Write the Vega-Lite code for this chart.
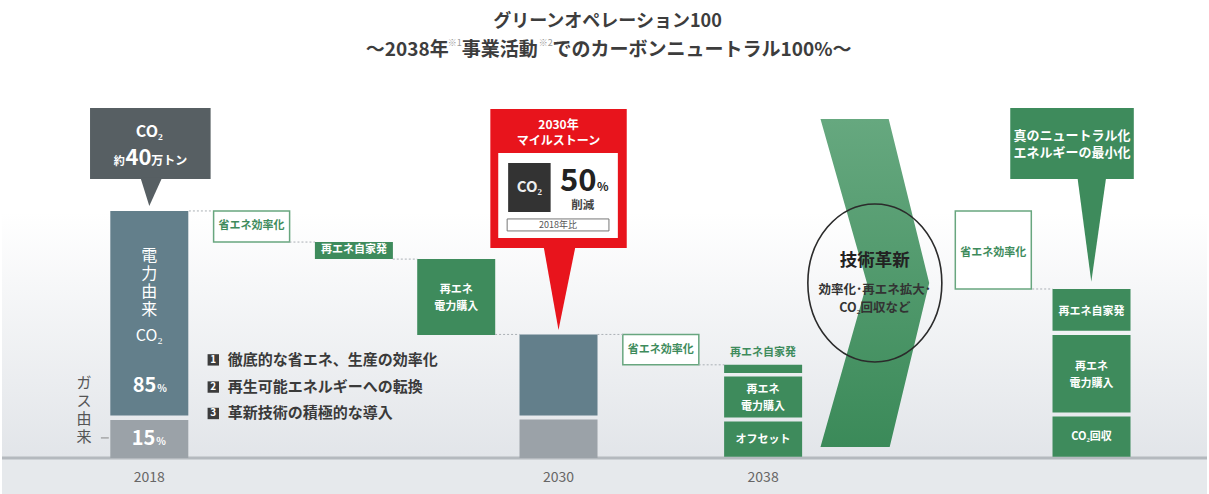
{
  "$schema": "https://vega.github.io/schema/vega-lite/v6.json",
  "width": 1209,
  "height": 494,
  "padding": 0,
  "autosize": {"type": "fit", "contains": "padding"},
  "config": {"view": {"stroke": null}, "font": "Noto Sans CJK JP", "text": {"font": "Noto Sans CJK JP"}},
  "layer": [
    {
      "data": {"values": [{"area": "background"}]},
      "mark": {"type": "rect", "fill": {"gradient": "linear", "x1": 0, "y1": 0, "x2": 0, "y2": 1, "stops": [{"offset": 0, "color": "#ffffff"}, {"offset": 0.43, "color": "#ffffff"}, {"offset": 0.925, "color": "#e2e5e9"}, {"offset": 0.93, "color": "#e6e9ec"}, {"offset": 1, "color": "#e6e9ec"}]}},
      "encoding": {}
    },
    {
      "data": {"values": [{"v": 0}]},
      "mark": {"type": "rule", "color": "#b4b9be", "strokeWidth": 3},
      "encoding": {"y": {"field": "v", "type": "quantitative", "scale": {"domain": [-14.6, 185.4], "nice": false, "zero": false}, "axis": null}}
    },
    {
      "data": {"values": [
        {"step": 0, "lo": 0, "hi": 15.4, "kind": "gas"},
        {"step": 0, "lo": 17.2, "hi": 100, "kind": "elec"},
        {"step": 4, "lo": 0, "hi": 15.6, "kind": "gas"},
        {"step": 4, "lo": 17.2, "hi": 50, "kind": "elec"},
        {"step": 2, "lo": 80.5, "hi": 87.4, "kind": "green"},
        {"step": 3, "lo": 49.8, "hi": 80.5, "kind": "green"},
        {"step": 6, "lo": 34.4, "hi": 37.7, "kind": "green"},
        {"step": 6, "lo": 16.4, "hi": 33.0, "kind": "green"},
        {"step": 6, "lo": 0.5, "hi": 14.8, "kind": "green"},
        {"step": 9.21, "lo": 51.5, "hi": 68.4, "kind": "green"},
        {"step": 9.21, "lo": 18.4, "hi": 49.8, "kind": "green"},
        {"step": 9.21, "lo": 0.5, "hi": 16.8, "kind": "green"}
      ]},
      "mark": {"type": "bar", "width": 78},
      "encoding": {
        "x": {"field": "step", "type": "quantitative", "scale": {"domain": [-1.391, 10.29], "nice": false, "zero": false}, "axis": null},
        "y": {"field": "lo", "type": "quantitative", "scale": {"domain": [-14.6, 185.4], "nice": false, "zero": false}, "axis": null},
        "y2": {"field": "hi"},
        "color": {"field": "kind", "type": "nominal", "scale": {"domain": ["gas", "elec", "green", "dark", "red", "white", "co2"], "range": ["#9ba2a8", "#637f8b", "#3e8b5c", "#575f63", "#e8141c", "#ffffff", "#333333"]}, "legend": null}
      }
    },
    {
      "data": {"values": [
        {"step": 1, "lo": 87.4, "hi": 100},
        {"step": 5, "lo": 37.7, "hi": 50},
        {"step": 8.25, "lo": 68.4, "hi": 100}
      ]},
      "mark": {"type": "bar", "width": 76, "fill": "#ffffff", "stroke": "#68a67f", "strokeWidth": 1.5},
      "encoding": {
        "x": {"field": "step", "type": "quantitative", "scale": {"domain": [-1.391, 10.29], "nice": false, "zero": false}, "axis": null},
        "y": {"field": "lo", "type": "quantitative", "scale": {"domain": [-14.6, 185.4], "nice": false, "zero": false}, "axis": null},
        "y2": {"field": "hi"}
      }
    },
    {
      "data": {"values": [
        {"a": 0.387, "b": 0.62, "v": 100},
        {"a": 1.37, "b": 1.62, "v": 87.4},
        {"a": 2.38, "b": 2.62, "v": 80.5},
        {"a": 3.38, "b": 3.62, "v": 50},
        {"a": 4.38, "b": 4.63, "v": 50},
        {"a": 5.37, "b": 5.62, "v": 37.7},
        {"a": 8.63, "b": 8.83, "v": 68.4}
      ]},
      "mark": {"type": "rule", "color": "#aab0b5", "strokeWidth": 1, "strokeDash": [2, 2]},
      "encoding": {
        "x": {"field": "a", "type": "quantitative", "scale": {"domain": [-1.391, 10.29], "nice": false, "zero": false}, "axis": null},
        "x2": {"field": "b"},
        "y": {"field": "v", "type": "quantitative", "scale": {"domain": [-14.6, 185.4], "nice": false, "zero": false}, "axis": null}
      }
    },
    {
      "data": {"values": [
        {"v": 137.25, "l": 6.5607, "r": 7.2274},
        {"v": 70.85, "l": 7.0148, "r": 7.6235},
        {"v": 4.45, "l": 6.5607, "r": 7.2371}
      ]},
      "mark": {"type": "area", "orient": "horizontal", "fill": {"gradient": "linear", "x1": 0, "y1": 0, "x2": 0, "y2": 1, "stops": [{"offset": 0, "color": "#66a87f"}, {"offset": 1, "color": "#3b8a59"}]}},
      "encoding": {
        "y": {"field": "v", "type": "quantitative", "scale": {"domain": [-14.6, 185.4], "nice": false, "zero": false}, "axis": null},
        "x": {"field": "l", "type": "quantitative", "scale": {"domain": [-1.391, 10.29], "nice": false, "zero": false}, "axis": null},
        "x2": {"field": "r"}
      }
    },
    {
      "data": {"values": [
        {"id": "dark", "x0": -0.5794, "x1": 0.5993, "y0": 112.96, "y1": 141.7},
        {"id": "red", "x0": 3.3336, "x1": 4.6669, "y0": 85.02, "y1": 141.3},
        {"id": "green", "x0": 8.4157, "x1": 9.6234, "y0": 112.96, "y1": 141.7},
        {"id": "white", "x0": 3.4109, "x1": 4.58, "y0": 89.07, "y1": 123.48},
        {"id": "co2", "x0": 3.5076, "x1": 3.923, "y0": 99.6, "y1": 119.43}
      ]},
      "mark": {"type": "rect"},
      "encoding": {
        "x": {"field": "x0", "type": "quantitative", "scale": {"domain": [-1.391, 10.29], "nice": false, "zero": false}, "axis": null},
        "x2": {"field": "x1"},
        "y": {"field": "y0", "type": "quantitative", "scale": {"domain": [-14.6, 185.4], "nice": false, "zero": false}, "axis": null},
        "y2": {"field": "y1"},
        "color": {"field": "id", "type": "nominal", "scale": {"domain": ["gas", "elec", "green", "dark", "red", "white", "co2"], "range": ["#9ba2a8", "#637f8b", "#3e8b5c", "#575f63", "#e8141c", "#ffffff", "#333333"]}, "legend": null}
      }
    },
    {
      "data": {"values": [
        {"id": "dark", "v": 113.5, "l": -0.0867, "r": 0.1259},
        {"id": "dark", "v": 102.0, "l": 0, "r": 0},
        {"id": "red", "v": 85.4, "l": 3.8553, "r": 4.1645},
        {"id": "red", "v": 51.8, "l": 4.0, "r": 4.0},
        {"id": "green", "v": 113.5, "l": 9.0727, "r": 9.3529},
        {"id": "green", "v": 71.3, "l": 9.208, "r": 9.208}
      ]},
      "mark": {"type": "area", "orient": "horizontal"},
      "encoding": {
        "y": {"field": "v", "type": "quantitative", "scale": {"domain": [-14.6, 185.4], "nice": false, "zero": false}, "axis": null},
        "x": {"field": "l", "type": "quantitative", "scale": {"domain": [-1.391, 10.29], "nice": false, "zero": false}, "axis": null},
        "x2": {"field": "r"},
        "detail": {"field": "id"},
        "color": {"field": "id", "type": "nominal", "scale": {"domain": ["gas", "elec", "green", "dark", "red", "white", "co2"], "range": ["#9ba2a8", "#637f8b", "#3e8b5c", "#575f63", "#e8141c", "#ffffff", "#333333"]}, "legend": null}
      }
    },
    {
      "data": {"values": [{"x0": 3.4979, "x1": 4.493, "y0": 91.9, "y1": 96.76}]},
      "mark": {"type": "rect", "fill": "#ffffff", "stroke": "#777777", "strokeWidth": 1},
      "encoding": {
        "x": {"field": "x0", "type": "quantitative", "scale": {"domain": [-1.391, 10.29], "nice": false, "zero": false}, "axis": null},
        "x2": {"field": "x1"},
        "y": {"field": "y0", "type": "quantitative", "scale": {"domain": [-14.6, 185.4], "nice": false, "zero": false}, "axis": null},
        "y2": {"field": "y1"}
      }
    },
    {
      "data": {"values": [{"a": -0.4731, "b": -0.3958, "v": 8.1}]},
      "mark": {"type": "rule", "color": "#888888", "strokeWidth": 1},
      "encoding": {
        "x": {"field": "a", "type": "quantitative", "scale": {"domain": [-1.391, 10.29], "nice": false, "zero": false}, "axis": null},
        "x2": {"field": "b"},
        "y": {"field": "v", "type": "quantitative", "scale": {"domain": [-14.6, 185.4], "nice": false, "zero": false}, "axis": null}
      }
    },
    {
      "data": {"values": [{"s": 0.6254, "v": 39.7}, {"s": 0.6254, "v": 28.7}, {"s": 0.6254, "v": 18.0}]},
      "mark": {"type": "point", "shape": "square", "size": 130, "filled": true, "color": "#3c3c3c", "opacity": 1},
      "encoding": {
        "x": {"field": "s", "type": "quantitative", "scale": {"domain": [-1.391, 10.29], "nice": false, "zero": false}, "axis": null},
        "y": {"field": "v", "type": "quantitative", "scale": {"domain": [-14.6, 185.4], "nice": false, "zero": false}, "axis": null}
      }
    },
    {
      "data": {"values": [{"s": 7.0921, "v": 70.85}]},
      "mark": {"type": "point", "shape": "M0,-1.179A1,1.179,0,1,1,0,1.179A1,1.179,0,1,1,0,-1.179Z", "size": 17956, "filled": false, "stroke": "#2b2b2b", "strokeWidth": 1.6, "opacity": 1},
      "encoding": {
        "x": {"field": "s", "type": "quantitative", "scale": {"domain": [-1.391, 10.29], "nice": false, "zero": false}, "axis": null},
        "y": {"field": "v", "type": "quantitative", "scale": {"domain": [-14.6, 185.4], "nice": false, "zero": false}, "axis": null}
      }
    },
    {
      "data": {"values": [{"s": 4.4786, "v": 176.5, "t": "グリーンオペレーション100"}]},
      "mark": {"type": "text", "fontSize": 18, "fontWeight": "bold", "color": "#3d3d3d", "align": "center", "baseline": "middle"},
      "encoding": {
        "x": {"field": "s", "type": "quantitative", "scale": {"domain": [-1.391, 10.29], "nice": false, "zero": false}, "axis": null},
        "y": {"field": "v", "type": "quantitative", "scale": {"domain": [-14.6, 185.4], "nice": false, "zero": false}, "axis": null},
        "text": {"field": "t"}
      }
    },
    {
      "data": {"values": [
        {"s": 2.1162, "v": 165.2, "t": "～2038年"},
        {"s": 3.0534, "v": 165.2, "t": "事業活動"},
        {"s": 3.9423, "v": 165.2, "t": "でのカーボンニュートラル100%～"}
      ]},
      "mark": {"type": "text", "fontSize": 19, "fontWeight": "bold", "color": "#3d3d3d", "align": "left", "baseline": "middle"},
      "encoding": {
        "x": {"field": "s", "type": "quantitative", "scale": {"domain": [-1.391, 10.29], "nice": false, "zero": false}, "axis": null},
        "y": {"field": "v", "type": "quantitative", "scale": {"domain": [-14.6, 185.4], "nice": false, "zero": false}, "axis": null},
        "text": {"field": "t"}
      }
    },
    {
      "data": {"values": [
        {"s": 2.9182, "v": 168.0, "t": "※1"},
        {"s": 3.8071, "v": 168.0, "t": "※2"}
      ]},
      "mark": {"type": "text", "fontSize": 9, "color": "#999999", "align": "left", "baseline": "middle"},
      "encoding": {
        "x": {"field": "s", "type": "quantitative", "scale": {"domain": [-1.391, 10.29], "nice": false, "zero": false}, "axis": null},
        "y": {"field": "v", "type": "quantitative", "scale": {"domain": [-14.6, 185.4], "nice": false, "zero": false}, "axis": null},
        "text": {"field": "t"}
      }
    },
    {
      "data": {"values": [
        {"s": 1, "v": 93.7, "t": "省エネ効率化"},
        {"s": 5, "v": 43.8, "t": "省エネ効率化"},
        {"s": 8.25, "v": 83.0, "t": "省エネ効率化"},
        {"s": 6, "v": 42.5, "t": "再エネ自家発"}
      ]},
      "mark": {"type": "text", "fontSize": 11, "fontWeight": "bold", "color": "#3e8b5c", "align": "center", "baseline": "middle"},
      "encoding": {
        "x": {"field": "s", "type": "quantitative", "scale": {"domain": [-1.391, 10.29], "nice": false, "zero": false}, "axis": null},
        "y": {"field": "v", "type": "quantitative", "scale": {"domain": [-14.6, 185.4], "nice": false, "zero": false}, "axis": null},
        "text": {"field": "t"}
      }
    },
    {
      "data": {"values": [
        {"s": 2, "v": 84.0, "t": "再エネ自家発"},
        {"s": 3, "v": 68.0, "t": "再エネ\n電力購入"},
        {"s": 6, "v": 27.5, "t": "再エネ\n電力購入"},
        {"s": 6, "v": 7.3, "t": "オフセット"},
        {"s": 9.21, "v": 59.1, "t": "再エネ自家発"},
        {"s": 9.21, "v": 36.8, "t": "再エネ\n電力購入"},
        {"s": 9.21, "v": 8.5, "t": "CO₂回収"}
      ]},
      "mark": {"type": "text", "fontSize": 11, "fontWeight": "bold", "color": "#ffffff", "align": "center", "baseline": "middle", "lineBreak": "\n", "lineHeight": 17},
      "encoding": {
        "x": {"field": "s", "type": "quantitative", "scale": {"domain": [-1.391, 10.29], "nice": false, "zero": false}, "axis": null},
        "y": {"field": "v", "type": "quantitative", "scale": {"domain": [-14.6, 185.4], "nice": false, "zero": false}, "axis": null},
        "text": {"field": "t"}
      }
    },
    {
      "data": {"values": [
        {"s": 0, "v": 81.6, "t": "電\n力\n由\n来"},
        {"s": 0, "v": 49.4, "t": "CO₂"}
      ]},
      "mark": {"type": "text", "fontSize": 16, "color": "#ffffff", "align": "center", "baseline": "middle", "lineBreak": "\n", "lineHeight": 18},
      "encoding": {
        "x": {"field": "s", "type": "quantitative", "scale": {"domain": [-1.391, 10.29], "nice": false, "zero": false}, "axis": null},
        "y": {"field": "v", "type": "quantitative", "scale": {"domain": [-14.6, 185.4], "nice": false, "zero": false}, "axis": null},
        "text": {"field": "t"}
      }
    },
    {
      "data": {"values": [
        {"s": 0.0679, "v": 26.7, "t": "85"},
        {"s": 0.0583, "v": 5.3, "t": "15"}
      ]},
      "mark": {"type": "text", "fontSize": 20, "fontWeight": "bold", "color": "#ffffff", "align": "right", "baseline": "alphabetic"},
      "encoding": {
        "x": {"field": "s", "type": "quantitative", "scale": {"domain": [-1.391, 10.29], "nice": false, "zero": false}, "axis": null},
        "y": {"field": "v", "type": "quantitative", "scale": {"domain": [-14.6, 185.4], "nice": false, "zero": false}, "axis": null},
        "text": {"field": "t"}
      }
    },
    {
      "data": {"values": [
        {"s": 0.0776, "v": 26.7, "t": "%"},
        {"s": 0.0679, "v": 5.3, "t": "%"}
      ]},
      "mark": {"type": "text", "fontSize": 10, "fontWeight": "bold", "color": "#ffffff", "align": "left", "baseline": "alphabetic"},
      "encoding": {
        "x": {"field": "s", "type": "quantitative", "scale": {"domain": [-1.391, 10.29], "nice": false, "zero": false}, "axis": null},
        "y": {"field": "v", "type": "quantitative", "scale": {"domain": [-14.6, 185.4], "nice": false, "zero": false}, "axis": null},
        "text": {"field": "t"}
      }
    },
    {
      "data": {"values": [{"s": -0.6374, "v": 30.4, "t": "ガ\nス\n由\n来"}]},
      "mark": {"type": "text", "fontSize": 15, "color": "#555555", "align": "center", "baseline": "middle", "lineBreak": "\n", "lineHeight": 18},
      "encoding": {
        "x": {"field": "s", "type": "quantitative", "scale": {"domain": [-1.391, 10.29], "nice": false, "zero": false}, "axis": null},
        "y": {"field": "v", "type": "quantitative", "scale": {"domain": [-14.6, 185.4], "nice": false, "zero": false}, "axis": null},
        "text": {"field": "t"}
      }
    },
    {
      "data": {"values": [
        {"s": 0, "v": -8.1, "t": "2018"},
        {"s": 4, "v": -8.1, "t": "2030"},
        {"s": 6, "v": -8.1, "t": "2038"}
      ]},
      "mark": {"type": "text", "fontSize": 14, "color": "#666666", "align": "center", "baseline": "middle"},
      "encoding": {
        "x": {"field": "s", "type": "quantitative", "scale": {"domain": [-1.391, 10.29], "nice": false, "zero": false}, "axis": null},
        "y": {"field": "v", "type": "quantitative", "scale": {"domain": [-14.6, 185.4], "nice": false, "zero": false}, "axis": null},
        "text": {"field": "t"}
      }
    },
    {
      "data": {"values": [
        {"s": 0.7665, "v": 39.7, "t": "徹底的な省エネ、生産の効率化"},
        {"s": 0.7665, "v": 28.7, "t": "再生可能エネルギーへの転換"},
        {"s": 0.7665, "v": 18.0, "t": "革新技術の積極的な導入"}
      ]},
      "mark": {"type": "text", "fontSize": 15, "fontWeight": "bold", "color": "#3a3a3a", "align": "left", "baseline": "middle"},
      "encoding": {
        "x": {"field": "s", "type": "quantitative", "scale": {"domain": [-1.391, 10.29], "nice": false, "zero": false}, "axis": null},
        "y": {"field": "v", "type": "quantitative", "scale": {"domain": [-14.6, 185.4], "nice": false, "zero": false}, "axis": null},
        "text": {"field": "t"}
      }
    },
    {
      "data": {"values": [
        {"s": 0.6254, "v": 39.7, "t": "1"},
        {"s": 0.6254, "v": 28.7, "t": "2"},
        {"s": 0.6254, "v": 18.0, "t": "3"}
      ]},
      "mark": {"type": "text", "fontSize": 10, "fontWeight": "bold", "color": "#ffffff", "align": "center", "baseline": "middle"},
      "encoding": {
        "x": {"field": "s", "type": "quantitative", "scale": {"domain": [-1.391, 10.29], "nice": false, "zero": false}, "axis": null},
        "y": {"field": "v", "type": "quantitative", "scale": {"domain": [-14.6, 185.4], "nice": false, "zero": false}, "axis": null},
        "text": {"field": "t"}
      }
    },
    {
      "data": {"values": [{"s": 0, "v": 132.0, "t": "CO₂"}]},
      "mark": {"type": "text", "fontSize": 16, "fontWeight": "bold", "color": "#ffffff", "align": "center", "baseline": "middle"},
      "encoding": {
        "x": {"field": "s", "type": "quantitative", "scale": {"domain": [-1.391, 10.29], "nice": false, "zero": false}, "axis": null},
        "y": {"field": "v", "type": "quantitative", "scale": {"domain": [-14.6, 185.4], "nice": false, "zero": false}, "axis": null},
        "text": {"field": "t"}
      }
    },
    {
      "data": {"values": [{"s": -0.2412, "v": 118.6, "t": "約"}]},
      "mark": {"type": "text", "fontSize": 11, "fontWeight": "bold", "color": "#ffffff", "align": "right", "baseline": "alphabetic"},
      "encoding": {
        "x": {"field": "s", "type": "quantitative", "scale": {"domain": [-1.391, 10.29], "nice": false, "zero": false}, "axis": null},
        "y": {"field": "v", "type": "quantitative", "scale": {"domain": [-14.6, 185.4], "nice": false, "zero": false}, "axis": null},
        "text": {"field": "t"}
      }
    },
    {
      "data": {"values": [{"s": -0.106, "v": 118.6, "t": "40"}]},
      "mark": {"type": "text", "fontSize": 22, "fontWeight": "bold", "color": "#ffffff", "align": "center", "baseline": "alphabetic"},
      "encoding": {
        "x": {"field": "s", "type": "quantitative", "scale": {"domain": [-1.391, 10.29], "nice": false, "zero": false}, "axis": null},
        "y": {"field": "v", "type": "quantitative", "scale": {"domain": [-14.6, 185.4], "nice": false, "zero": false}, "axis": null},
        "text": {"field": "t"}
      }
    },
    {
      "data": {"values": [{"s": 0.0196, "v": 118.6, "t": "万トン"}]},
      "mark": {"type": "text", "fontSize": 12, "fontWeight": "bold", "color": "#ffffff", "align": "left", "baseline": "alphabetic"},
      "encoding": {
        "x": {"field": "s", "type": "quantitative", "scale": {"domain": [-1.391, 10.29], "nice": false, "zero": false}, "axis": null},
        "y": {"field": "v", "type": "quantitative", "scale": {"domain": [-14.6, 185.4], "nice": false, "zero": false}, "axis": null},
        "text": {"field": "t"}
      }
    },
    {
      "data": {"values": [
        {"s": 4.0, "v": 134.8, "t": "2030年"},
        {"s": 4.0, "v": 128.3, "t": "マイルストーン"}
      ]},
      "mark": {"type": "text", "fontSize": 12, "fontWeight": "bold", "color": "#ffffff", "align": "center", "baseline": "middle"},
      "encoding": {
        "x": {"field": "s", "type": "quantitative", "scale": {"domain": [-1.391, 10.29], "nice": false, "zero": false}, "axis": null},
        "y": {"field": "v", "type": "quantitative", "scale": {"domain": [-14.6, 185.4], "nice": false, "zero": false}, "axis": null},
        "text": {"field": "t"}
      }
    },
    {
      "data": {"values": [{"s": 3.7153, "v": 109.5, "t": "CO₂"}]},
      "mark": {"type": "text", "fontSize": 15, "fontWeight": "bold", "color": "#eeeeee", "align": "center", "baseline": "middle"},
      "encoding": {
        "x": {"field": "s", "type": "quantitative", "scale": {"domain": [-1.391, 10.29], "nice": false, "zero": false}, "axis": null},
        "y": {"field": "v", "type": "quantitative", "scale": {"domain": [-14.6, 185.4], "nice": false, "zero": false}, "axis": null},
        "text": {"field": "t"}
      }
    },
    {
      "data": {"values": [{"s": 4.1926, "v": 108.0, "t": "50"}]},
      "mark": {"type": "text", "fontSize": 31, "fontWeight": "bold", "color": "#222222", "align": "center", "baseline": "alphabetic"},
      "encoding": {
        "x": {"field": "s", "type": "quantitative", "scale": {"domain": [-1.391, 10.29], "nice": false, "zero": false}, "axis": null},
        "y": {"field": "v", "type": "quantitative", "scale": {"domain": [-14.6, 185.4], "nice": false, "zero": false}, "axis": null},
        "text": {"field": "t"}
      }
    },
    {
      "data": {"values": [{"s": 4.3772, "v": 108.0, "t": "%"}]},
      "mark": {"type": "text", "fontSize": 12, "fontWeight": "bold", "color": "#222222", "align": "left", "baseline": "alphabetic"},
      "encoding": {
        "x": {"field": "s", "type": "quantitative", "scale": {"domain": [-1.391, 10.29], "nice": false, "zero": false}, "axis": null},
        "y": {"field": "v", "type": "quantitative", "scale": {"domain": [-14.6, 185.4], "nice": false, "zero": false}, "axis": null},
        "text": {"field": "t"}
      }
    },
    {
      "data": {"values": [{"s": 4.2367, "v": 102.2, "t": "削減"}]},
      "mark": {"type": "text", "fontSize": 11.5, "fontWeight": "bold", "color": "#444444", "align": "center", "baseline": "middle"},
      "encoding": {
        "x": {"field": "s", "type": "quantitative", "scale": {"domain": [-1.391, 10.29], "nice": false, "zero": false}, "axis": null},
        "y": {"field": "v", "type": "quantitative", "scale": {"domain": [-14.6, 185.4], "nice": false, "zero": false}, "axis": null},
        "text": {"field": "t"}
      }
    },
    {
      "data": {"values": [{"s": 3.9955, "v": 94.3, "t": "2018年比"}]},
      "mark": {"type": "text", "fontSize": 9, "color": "#555555", "align": "center", "baseline": "middle"},
      "encoding": {
        "x": {"field": "s", "type": "quantitative", "scale": {"domain": [-1.391, 10.29], "nice": false, "zero": false}, "axis": null},
        "y": {"field": "v", "type": "quantitative", "scale": {"domain": [-14.6, 185.4], "nice": false, "zero": false}, "axis": null},
        "text": {"field": "t"}
      }
    },
    {
      "data": {"values": [
        {"s": 9.02, "v": 130.4, "t": "真のニュートラル化"},
        {"s": 9.02, "v": 123.5, "t": "エネルギーの最小化"}
      ]},
      "mark": {"type": "text", "fontSize": 13, "fontWeight": "bold", "color": "#ffffff", "align": "center", "baseline": "middle"},
      "encoding": {
        "x": {"field": "s", "type": "quantitative", "scale": {"domain": [-1.391, 10.29], "nice": false, "zero": false}, "axis": null},
        "y": {"field": "v", "type": "quantitative", "scale": {"domain": [-14.6, 185.4], "nice": false, "zero": false}, "axis": null},
        "text": {"field": "t"}
      }
    },
    {
      "data": {"values": [{"s": 7.0921, "v": 79.8, "t": "技術革新"}]},
      "mark": {"type": "text", "fontSize": 17.5, "fontWeight": "bold", "color": "#222222", "align": "center", "baseline": "middle"},
      "encoding": {
        "x": {"field": "s", "type": "quantitative", "scale": {"domain": [-1.391, 10.29], "nice": false, "zero": false}, "axis": null},
        "y": {"field": "v", "type": "quantitative", "scale": {"domain": [-14.6, 185.4], "nice": false, "zero": false}, "axis": null},
        "text": {"field": "t"}
      }
    },
    {
      "data": {"values": [
        {"s": 7.0921, "v": 68.0, "t": "効率化･再エネ拡大･"},
        {"s": 7.0921, "v": 60.7, "t": "CO₂回収など"}
      ]},
      "mark": {"type": "text", "fontSize": 12.5, "fontWeight": "bold", "color": "#333333", "align": "center", "baseline": "middle"},
      "encoding": {
        "x": {"field": "s", "type": "quantitative", "scale": {"domain": [-1.391, 10.29], "nice": false, "zero": false}, "axis": null},
        "y": {"field": "v", "type": "quantitative", "scale": {"domain": [-14.6, 185.4], "nice": false, "zero": false}, "axis": null},
        "text": {"field": "t"}
      }
    }
  ]
}
